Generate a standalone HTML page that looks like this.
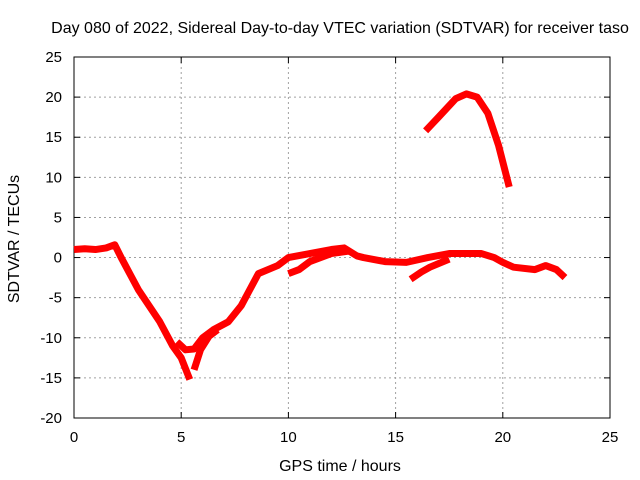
<!DOCTYPE html>
<html><head><meta charset="utf-8"><style>
body{margin:0;background:#fff}
svg{display:block;font-family:"Liberation Sans",sans-serif}
</style></head><body>
<svg id="chart" width="640" height="480" viewBox="0 0 640 480"></svg>
<script>
const xTicks=[0,5,10,15,20,25];
const yTicks=[25,20,15,10,5,0,-5,-10,-15,-20];
const arcA=[[0,1],[0.5,1.1],[1,1],[1.5,1.2],[1.9,1.6],[2.2,0],[2.6,-2],[3,-4],[3.5,-6],[4,-8],[4.6,-11],[5,-12.5],[5.4,-15.2]];
const arcB=[[4.8,-10.5],[5.2,-11.5],[5.6,-11.4],[6,-10],[6.5,-9],[7.2,-8],[7.8,-6],[8.2,-4],[8.6,-2],[9.5,-1],[10,0],[11,0.5],[12,1],[12.6,1.2],[13.2,0.2],[13.5,0],[14.5,-0.5],[15.5,-0.6],[16.5,0],[17.5,0.5],[19,0.5],[19.6,0],[20,-0.6],[20.5,-1.2],[21.5,-1.5],[22,-1],[22.5,-1.5],[22.9,-2.5]];
const arcC=[[5.6,-14],[5.9,-11.5],[6.3,-9.8],[6.7,-9]];
const arcD=[[10,-2],[10.5,-1.5],[11,-0.5],[12,0.5],[12.8,0.8]];
const arcE=[[15.7,-2.7],[16.2,-1.8],[16.6,-1.2],[17.5,-0.2]];
const arcF=[[16.4,15.8],[17,17.5],[17.8,19.8],[18.3,20.4],[18.8,20],[19.3,18],[19.8,14],[20.3,8.8]];
const arcs=[arcA,arcB,arcC,arcD,arcE,arcF];
const svg=document.getElementById('chart');
const NS='http://www.w3.org/2000/svg';
const L=74,R=610,T=57,B=418;
const xs=v=>L+(v-0)/25*(R-L);
const ys=v=>T+(25-v)/45*(B-T);
function mk(tag,attrs){const e=document.createElementNS(NS,tag);for(const k in attrs)e.setAttribute(k,attrs[k]);svg.appendChild(e);return e;}
xTicks.forEach(t=>{
  const x=xs(t);
  if(t>0&&t<25){const g=mk('line',{x1:x,x2:x,y1:T,y2:B,stroke:'#a0a0a0','stroke-dasharray':'2,3','stroke-width':1});
  
  }
  const tk=mk('text',{x:x,y:B+24,'text-anchor':'middle','font-size':15,fill:'#000'});
  tk.textContent=t;
  
  
  mk('line',{x1:x,x2:x,y1:B,y2:B-6,stroke:'#000'});
  mk('line',{x1:x,x2:x,y1:T,y2:T+6,stroke:'#000'});
});
yTicks.forEach(t=>{
  const y=ys(t);
  if(t<25&&t>-20){const g=mk('line',{x1:L,x2:R,y1:y,y2:y,stroke:'#a0a0a0','stroke-dasharray':'2,3','stroke-width':1});
  
  }
  const tk=mk('text',{x:L-12,y:y+5,'text-anchor':'end','font-size':15,fill:'#000'});
  tk.textContent=t;
  
  
  mk('line',{x1:L,x2:L+6,y1:y,y2:y,stroke:'#000'});
  mk('line',{x1:R,x2:R-6,y1:y,y2:y,stroke:'#000'});
});
const frame=mk('rect',{x:L,y:T,width:R-L,height:B-T,fill:'none',stroke:'#000'});


arcs.forEach(a=>{
  const p=mk('polyline',{points:a.map(d=>xs(d[0])+','+ys(d[1])).join(' '),fill:'none',stroke:'#ff0000','stroke-width':7,'stroke-linejoin':'round','stroke-linecap':'butt'});
  
  
});
const title=mk('text',{x:340,y:33,'text-anchor':'middle','font-size':16,fill:'#000'});
title.textContent='Day 080 of 2022, Sidereal Day-to-day VTEC variation (SDTVAR) for receiver taso';


const xt=mk('text',{x:340,y:471,'text-anchor':'middle','font-size':16,fill:'#000'});
xt.textContent='GPS time / hours';


const yt=mk('text',{x:0,y:0,'text-anchor':'middle','font-size':16,fill:'#000',transform:'translate(19,239) rotate(-90)'});
yt.textContent='SDTVAR / TECUs';


</script>
</body></html>
